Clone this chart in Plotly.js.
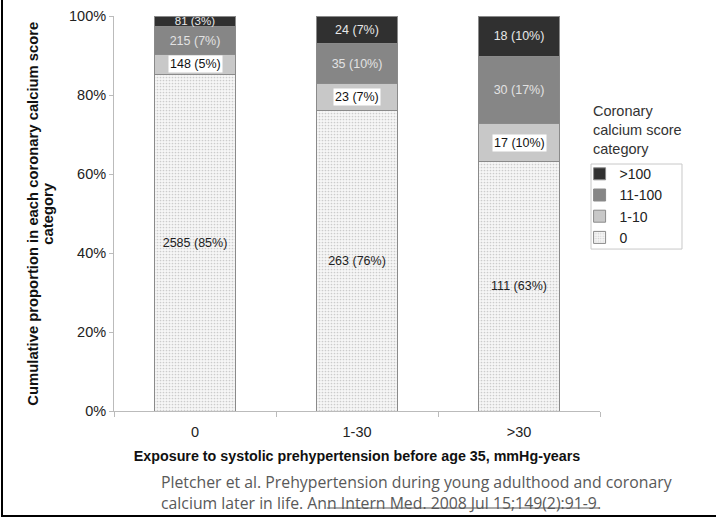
<!DOCTYPE html>
<html>
<head>
<meta charset="utf-8">
<script src="https://cdn.plot.ly/plotly-3.0.1.min.js"></script>
<style>
  html, body { margin: 0; padding: 0; background: #fff; }
  #wrap { position: relative; width: 716px; height: 518px; }
  #chart { width: 716px; height: 518px; }
  #frame { position: absolute; left: 1px; top: 0; width: 714px; height: 515px;
           border-left: 2px solid #000; border-bottom: 2px solid #000; pointer-events: none; }
</style>
</head>
<body>
<div id="wrap"><div id="chart"></div><div id="frame"></div></div>
<script>
// Categories (exposure groups)
const categories = ["0", "1-30", ">30"];
// Counts by coronary calcium score category
const count0       = [2585, 263, 111];
const count1_10    = [148, 23, 17];
const count11_100  = [215, 35, 30];
const countOver100 = [81, 24, 18];
// Proportions (%)
const pct0       = [85.3, 76.2, 63.1];
const pct1_10    = [4.9, 6.7, 9.7];
const pct11_100  = [7.1, 10.1, 17.0];
const pctOver100 = [2.7, 7.0, 10.2];
// Label percentages as printed
const lab0       = ["85%", "76%", "63%"];
const lab1_10    = ["5%", "7%", "10%"];
const lab11_100  = ["7%", "10%", "17%"];
const labOver100 = ["3%", "7%", "10%"];

const seriesNames = ["0", "1-10", "11-100", ">100"];
const yTicks = [0, 20, 40, 60, 80, 100];
const yTickText = ["0%", "20%", "40%", "60%", "80%", "100%"];

const FONT = "Liberation Sans, Arial, sans-serif";
const outline = { color: "#8a8a8a", width: 1 };

function mkText(counts, labs) { return counts.map((c, i) => c + " (" + labs[i] + ")"); }

const traces = [
  {
    type: "bar", name: seriesNames[0], x: categories, y: pct0,
    text: mkText(count0, lab0), textposition: "inside", insidetextanchor: "middle",
    constraintext: "none",
    textfont: { family: FONT, size: 12.5, color: "#222" },
    marker: { color: "#f4f4f4", line: outline,
      pattern: { shape: ".", fgcolor: "#cccccc", bgcolor: "#f6f6f6", size: 3, solidity: 0.25 } },
    hoverinfo: "none"
  },
  {
    type: "bar", name: seriesNames[1], x: categories, y: pct1_10,
    text: categories.map(() => ""), textposition: "none",
    marker: { color: "#c8c8c8", line: outline }, hoverinfo: "none"
  },
  {
    type: "bar", name: seriesNames[2], x: categories, y: pct11_100,
    text: mkText(count11_100, lab11_100), textposition: "inside", insidetextanchor: "middle",
    constraintext: "none",
    textfont: { family: FONT, size: 12.5, color: "#e2e2e2" },
    marker: { color: "#868686", line: outline }, hoverinfo: "none"
  },
  {
    type: "bar", name: seriesNames[3], x: categories, y: pctOver100,
    text: mkText(countOver100, labOver100), textposition: "inside", insidetextanchor: "middle",
    constraintext: "none",
    textfont: { family: FONT, size: [11.5, 12.5, 12.5], color: "#e8e8e8" },
    marker: { color: "#303030", line: outline }, hoverinfo: "none"
  }
];

// White-boxed labels for the 1-10 segment, placed at the segment centre
const annotations = categories.map((c, i) => ({
  x: c, y: pct0[i] + pct1_10[i] / 2, xref: "x", yref: "y",
  text: count1_10[i] + " (" + lab1_10[i] + ")", showarrow: false,
  bgcolor: "#ffffff", borderpad: 1,
  font: { family: FONT, size: 12.5, color: "#111" }
}));

// Y axis title, two lines
annotations.push({
  xref: "paper", yref: "paper", x: -0.189, y: 0.5, textangle: -90, showarrow: false,
  text: "<b>Cumulative proportion in each coronary calcium score</b>",
  font: { family: FONT, size: 14.8, color: "#111" }
});
annotations.push({
  xref: "paper", yref: "paper", x: -0.158, y: 0.5, textangle: -90, showarrow: false,
  text: "<b>category</b>",
  font: { family: FONT, size: 14.8, color: "#111" }
});

// Legend title (sits above the legend box)
annotations.push({
  xref: "paper", yref: "paper", x: 0.981, y: 0.786, xanchor: "left", yanchor: "top",
  align: "left", showarrow: false,
  text: "Coronary<br>calcium score<br>category",
  font: { family: FONT, size: 14.5, color: "#333" }
});

// Citation
annotations.push({
  xref: "paper", yref: "paper", x: 0.093, y: -0.147, xanchor: "left", yanchor: "top",
  align: "left", showarrow: false,
  text: "Pletcher et al. Prehypertension during young adulthood and coronary<br>calcium later in life. Ann Intern Med. 2008 Jul 15;149(2):91-9.",
  font: { family: "Open Sans, sans-serif", size: 15.8, color: "#595959" }
});

const layout = {
  width: 716, height: 518,
  margin: { l: 114, r: 116, t: 16, b: 107 },
  paper_bgcolor: "#fff", plot_bgcolor: "#fff",
  barmode: "stack", bargap: 0.5,
  showlegend: true,
  legend: {
    x: 0.958, y: 0.64, xanchor: "left", yanchor: "top",
    traceorder: "reversed",
    borderwidth: 0, bgcolor: "rgba(0,0,0,0)",
    font: { family: FONT, size: 14, color: "#222" },
    itemwidth: 30, tracegroupgap: 0
  },
  shapes: [
    // legend box
    { type: "rect", xref: "paper", yref: "paper", x0: 0.9815, x1: 1.1687, y0: 0.410, y1: 0.6253,
      line: { color: "#c8c8c8", width: 1 }, fillcolor: "rgba(0,0,0,0)", layer: "below" },
    // underline of the journal reference
    { type: "line", xref: "paper", yref: "paper", x0: 0.438, x1: 0.996, y0: -0.2456, y1: -0.2456,
      line: { color: "#595959", width: 1 } }
  ],
  xaxis: {
    type: "category", tickson: "boundaries", ticks: "outside", ticklen: 5, tickcolor: "#bbb",
    showline: true, linecolor: "#bbb", linewidth: 1, showgrid: false, zeroline: false,
    ticklabelstandoff: 8,
    tickfont: { family: FONT, size: 14.5, color: "#222" },
    title: { text: "<b>Exposure to systolic prehypertension before age 35, mmHg-years</b>",
      font: { family: FONT, size: 14.3, color: "#111" }, standoff: 11 }
  },
  yaxis: {
    range: [0, 100], tickvals: yTicks, ticktext: yTickText,
    ticks: "outside", ticklen: 4, tickcolor: "#bbb",
    showline: true, linecolor: "#bbb", linewidth: 1, showgrid: false, zeroline: false,
    tickfont: { family: FONT, size: 14.5, color: "#222" }
  },
  annotations: annotations
};

Plotly.newPlot("chart", traces, layout, { displayModeBar: false, staticPlot: true });
</script>
</body>
</html>
